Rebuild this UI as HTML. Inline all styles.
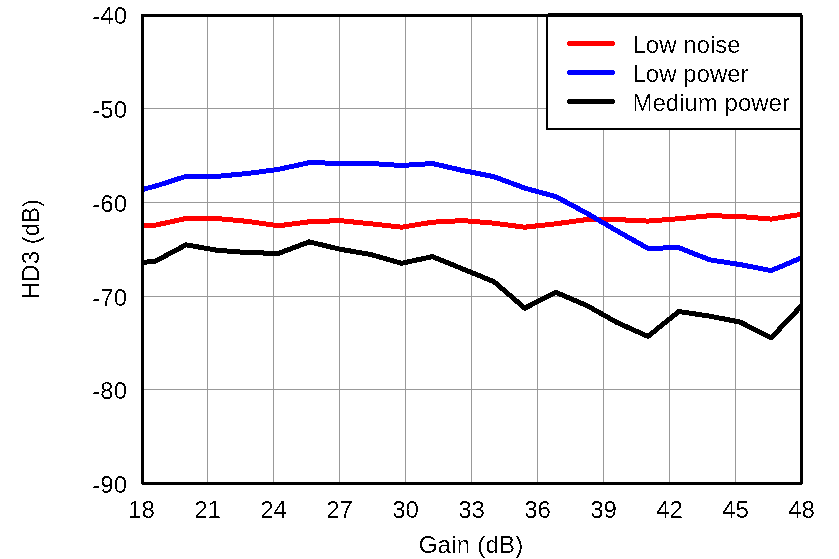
<!DOCTYPE html>
<html lang="en">
<head>
<meta charset="utf-8">
<title>HD3 vs Gain</title>
<style>
html,body{margin:0;padding:0;background:#fff;}
body{width:839px;height:559px;overflow:hidden;}
svg{display:block;}
text{font-family:"Liberation Sans",Arial,Helvetica,sans-serif;font-size:24px;fill:#000;}
</style>
</head>
<body>
<svg width="839" height="559" viewBox="0 0 839 559">
<defs><filter id="bin" x="0" y="0" width="839" height="559" filterUnits="userSpaceOnUse" color-interpolation-filters="sRGB"><feComponentTransfer><feFuncA type="discrete" tableValues="0 0 0 0 0 0 1 1 1 1"/></feComponentTransfer></filter><clipPath id="plot"><rect x="143" y="16" width="658" height="467"/></clipPath></defs>
<rect x="0" y="0" width="839" height="559" fill="#ffffff"/>
<g fill="#999999" shape-rendering="crispEdges"><rect x="207" y="16" width="1" height="467"/><rect x="273" y="16" width="1" height="467"/><rect x="339" y="16" width="1" height="467"/><rect x="405" y="16" width="1" height="467"/><rect x="471" y="16" width="1" height="467"/><rect x="537" y="16" width="1" height="467"/><rect x="603" y="16" width="1" height="467"/><rect x="669" y="16" width="1" height="467"/><rect x="735" y="16" width="1" height="467"/><rect x="143" y="108" width="658" height="1"/><rect x="143" y="202" width="658" height="1"/><rect x="143" y="296" width="658" height="1"/><rect x="143" y="389" width="658" height="1"/></g>
<g clip-path="url(#plot)" fill="none" stroke-width="5" stroke-linejoin="round" stroke-linecap="round" shape-rendering="crispEdges">
<polyline stroke="#000000" points="124.4,264.1 155.2,261.3 186.0,244.8 216.8,250.2 247.6,252.6 278.4,253.4 309.2,241.9 340.0,249.2 370.8,254.5 401.6,263.3 432.4,256.6 463.2,269.1 494.0,281.7 524.8,308.2 555.6,292.3 586.4,305.3 617.2,322.6 648.0,336.4 678.8,311.5 709.6,316.1 740.4,322.2 771.2,337.8 802.0,305.2"/>
<polyline stroke="#ff0000" points="124.4,226.1 155.2,225.2 186.0,218.5 216.8,218.5 247.6,221.4 278.4,225.8 309.2,221.8 340.0,220.6 370.8,223.8 401.6,227.2 432.4,222.2 463.2,220.6 494.0,223.2 524.8,227.2 555.6,223.8 586.4,219.6 617.2,219.6 648.0,221.1 678.8,218.7 709.6,215.7 740.4,216.5 771.2,219.1 802.0,214.2"/>
<polyline stroke="#0000ff" points="124.4,194.1 155.2,186.2 186.0,176.4 216.8,176.4 247.6,173.5 278.4,169.4 309.2,162.6 340.0,163.4 370.8,163.5 401.6,165.5 432.4,163.5 463.2,170.6 494.0,176.7 524.8,188.1 555.6,196.5 586.4,213.0 617.2,231.0 648.0,248.4 678.8,247.6 709.6,259.8 740.4,264.6 771.2,270.6 802.0,257.6"/>
</g>
<g shape-rendering="crispEdges"><rect x="546" y="13" width="256" height="117" fill="#ffffff"/><rect x="548" y="13" width="254" height="2" fill="#000"/><rect x="546" y="14" width="2" height="116" fill="#000"/><rect x="546" y="128" width="256" height="2" fill="#000"/></g>
<rect x="142.5" y="15.5" width="659" height="468" fill="none" stroke="#000" stroke-width="3" shape-rendering="crispEdges"/>
<rect x="800" y="13" width="2" height="4" fill="#000" shape-rendering="crispEdges"/>
<rect x="802" y="13" width="1" height="2" fill="#fff" shape-rendering="crispEdges"/>
<rect x="802" y="484" width="1" height="1" fill="#fff" shape-rendering="crispEdges"/>
<rect x="141" y="484" width="1" height="1" fill="#fff" shape-rendering="crispEdges"/>
<g fill="none" stroke-width="5" stroke-linecap="round" shape-rendering="crispEdges">
<line x1="569.5" y1="43.5" x2="612.5" y2="43.5" stroke="#ff0000"/>
<line x1="569.5" y1="72.5" x2="612.5" y2="72.5" stroke="#0000ff"/>
<line x1="569.5" y1="101.5" x2="612.5" y2="101.5" stroke="#000000"/>
</g>
<g filter="url(#bin)">
<g>
<text x="632.5" y="53">Low noise</text>
<text x="632.5" y="82">Low power</text>
<text x="632.5" y="111">Medium power</text>
</g>
<g><text x="127" y="24" text-anchor="end">-40</text><text x="127" y="118" text-anchor="end">-50</text><text x="127" y="212" text-anchor="end">-60</text><text x="127" y="306" text-anchor="end">-70</text><text x="127" y="399" text-anchor="end">-80</text><text x="127" y="493" text-anchor="end">-90</text></g>
<g><text x="141.5" y="518" text-anchor="middle">18</text><text x="207.5" y="518" text-anchor="middle">21</text><text x="273.5" y="518" text-anchor="middle">24</text><text x="339.5" y="518" text-anchor="middle">27</text><text x="405.5" y="518" text-anchor="middle">30</text><text x="471.5" y="518" text-anchor="middle">33</text><text x="537.5" y="518" text-anchor="middle">36</text><text x="603.5" y="518" text-anchor="middle">39</text><text x="669.5" y="518" text-anchor="middle">42</text><text x="735.5" y="518" text-anchor="middle">45</text><text x="801.5" y="518" text-anchor="middle">48</text></g>
<text x="418.65" y="553" letter-spacing="0.25">Gain (dB)</text>
<text transform="translate(39,249) rotate(-90)" text-anchor="middle">HD3 (dB)</text>
</g>
</svg>
</body>
</html>
